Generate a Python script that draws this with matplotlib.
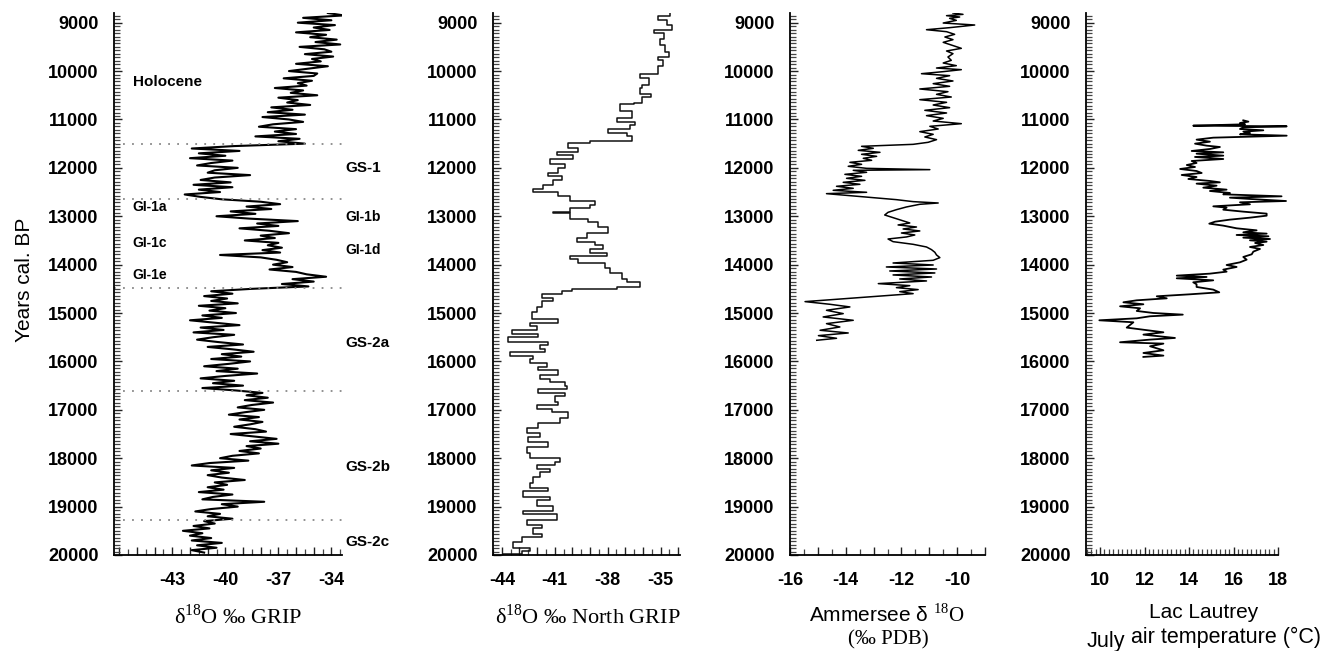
import numpy as np
import matplotlib
matplotlib.use('Agg')
import matplotlib.pyplot as plt
from matplotlib.ticker import MultipleLocator

plt.rcParams['font.family'] = ['Liberation Sans', 'DejaVu Sans']
plt.rcParams['mathtext.fontset'] = 'custom'
plt.rcParams['mathtext.rm'] = 'Liberation Serif'
plt.rcParams['axes.linewidth'] = 1.3

# ---- GRIP d18O, 50-yr samples from 8800 to 19950 cal BP ----
grip_age = np.arange(8800, 20000, 50)
grip_d18o = [
    -34.2, -33.3, -35.6, -34.0, -35.9, -33.8, -35.0, -34.1, -36.0, -34.3,
    -35.2, -33.7, -34.9, -33.5, -35.8, -34.4, -34.0, -35.5, -33.9, -35.1,
    -34.6, -36.0, -34.2, -35.3, -36.4, -34.8, -35.0, -36.7, -35.1, -35.9,
    -35.4, -37.2, -35.6, -36.3, -34.8, -37.0, -35.9, -36.5, -35.2, -37.4,
    -36.2, -37.6, -35.5, -37.9, -36.4, -35.6, -37.3, -38.1, -36.0, -37.2,
    -36.0, -38.3, -35.8, -37.0, -35.5, -39.5,
    -41.9, -39.2, -41.5, -40.0, -42.0, -39.6, -40.8, -41.6, -39.3, -40.6,
    -41.0, -38.6, -40.6, -41.4, -39.7, -41.8, -39.6, -41.5, -40.3, -42.3,
    -41.4, -40.2, -38.0, -36.9, -38.8, -37.4, -39.7, -38.3, -40.5, -38.6,
    -35.9, -38.2, -37.0, -39.2, -37.5, -36.4, -38.0, -37.2, -38.9, -37.0,
    -37.6, -36.8, -37.9, -36.9, -40.3, -38.0, -37.1, -36.5, -37.3, -36.2,
    -37.5, -36.0, -35.4, -34.3, -36.2, -35.0, -36.8, -35.3, -38.5, -40.8,
    -39.6, -41.2, -39.9, -40.8, -39.3, -41.5, -40.0, -40.9, -39.4, -41.3,
    -40.2, -42.0, -40.6, -39.2, -41.4, -40.1, -41.8, -39.5, -40.7, -41.6,
    -40.4, -39.0, -41.0, -39.6, -38.4, -40.2, -39.1, -40.8, -38.6, -39.8,
    -41.2, -39.3, -40.5, -38.2, -40.0, -41.4, -39.5, -40.7, -39.0, -41.3,
    -39.4, -37.9, -38.8, -37.6, -38.9, -37.3, -38.5, -39.3, -37.8, -38.9,
    -39.8, -38.1, -39.2, -37.9, -38.6, -39.5, -38.3, -37.7, -39.7, -38.4,
    -37.1, -38.6, -37.0, -38.8, -38.0, -39.2, -38.1, -39.6, -40.3, -38.7,
    -40.9, -41.9, -39.5, -40.8, -39.8, -41.0, -40.2, -38.9, -40.6, -39.9,
    -41.0, -40.1, -41.5, -39.6, -40.7, -41.3, -37.8, -40.2, -39.3, -40.8,
    -41.7, -40.3, -41.0, -39.6, -41.2, -40.6, -41.8, -40.9, -42.4, -41.3,
    -42.0, -40.8, -41.9, -40.2, -41.6, -40.5, -41.9, -41.2,
]

# stadial / interstadial boundaries and names
stage_bounds = [11500, 12650, 14480, 16620, 19280]
stage_left = ['Holocene', 'GI-1a', 'GI-1c', 'GI-1e']
stage_left_age = [10220, 12800, 13550, 14210]
stage_right = ['GS-1', 'GI-1b', 'GI-1d', 'GS-2a', 'GS-2b', 'GS-2c']
stage_right_age = [12000, 13010, 13700, 15620, 18180, 19730]

# ---- NorthGRIP d18O, step record: top age of each interval and its value ----
ngrip_top = [
    8796, 8855, 8942, 9051, 9145, 9218, 9342, 9451, 9596, 9705, 9778, 9887,
    10069, 10141, 10287, 10360, 10469, 10542, 10651, 10687, 10833, 10978,
    11051, 11124, 11196, 11283, 11342, 11451, 11487, 11596, 11669, 11742,
    11815, 11924, 11996, 12105, 12178, 12251, 12360, 12432, 12505, 12578,
    12687, 12760, 12833, 12905, 12941, 13050, 13123, 13232, 13341, 13450,
    13523, 13596, 13669, 13756, 13814, 13887, 13960, 14069, 14178, 14287,
    14360, 14469, 14505, 14542, 14615, 14687, 14760, 14869, 14978, 15124,
    15196, 15269, 15342, 15429, 15487, 15596, 15669, 15742, 15814, 15887,
    15960, 16033, 16105, 16178, 16287, 16360, 16433, 16505, 16578, 16651,
    16723, 16832, 16905, 16978, 17051, 17160, 17269, 17378, 17487, 17560,
    17669, 17778, 17887, 17996, 18069, 18141, 18214, 18287, 18396, 18505,
    18614, 18687, 18796, 18869, 18978, 19087, 19160, 19269, 19378, 19451,
    19560, 19632, 19741, 19850, 19923, 19975,
]
ngrip_d18o = [
    -34.45, -35.12, -34.64, -34.36, -35.40, -34.83, -35.02, -34.74, -34.55, -35.12, -34.87, -35.12,
    -36.16, -35.63, -36.06, -36.16, -35.55, -36.06, -36.50, -37.30, -36.63, -37.45,
    -36.44, -36.73, -37.96, -36.92, -36.63, -39.00, -40.23, -39.66, -40.89, -39.95,
    -41.27, -40.42, -40.80, -41.37, -40.61, -41.08, -41.65, -42.22, -40.80, -40.13,
    -38.71, -39.00, -40.13, -41.08, -40.13, -39.09, -38.52, -37.96, -39.19, -39.76,
    -38.71, -38.24, -39.00, -38.05, -40.13, -39.66, -38.15, -37.86, -37.20, -36.92,
    -36.16, -37.48, -40.04, -40.61, -41.74, -41.08, -41.74, -42.03, -42.31, -40.80,
    -42.41, -42.03, -43.45, -41.93, -43.64, -41.37, -41.84, -41.56, -43.54, -42.22,
    -42.41, -41.46, -41.93, -40.80, -41.84, -41.27, -40.42, -40.29, -41.93, -40.42,
    -40.99, -40.80, -42.03, -41.18, -40.23, -40.70, -41.93, -42.60, -41.84, -42.50,
    -41.37, -42.60, -42.41, -40.70, -40.99, -42.03, -41.27, -41.84, -42.22, -42.41,
    -41.37, -42.79, -41.27, -42.03, -41.08, -42.79, -40.89, -42.60, -41.74, -42.22,
    -41.74, -42.88, -43.35, -42.41, -42.88, -43.92,
]

# ---- Ammersee ostracod d18O ----
amm_age = [
    8800, 8828, 8855, 8883, 8910, 8952, 9007, 9048, 9103, 9145, 9186, 9241,
    9296, 9351, 9406, 9461, 9530, 9585, 9640, 9709, 9778, 9833, 9888, 9937,
    9971, 10012, 10054, 10095, 10150, 10205, 10260, 10315, 10370, 10426, 10481,
    10536, 10591, 10646, 10701, 10756, 10811, 10866, 10921, 10977, 11032, 11087,
    11142, 11197, 11252, 11307, 11362, 11417, 11472, 11514, 11555, 11596, 11638,
    11679, 11720, 11762, 11803, 11844, 11886, 11927, 11968, 12010, 12037, 12051,
    12092, 12134, 12175, 12216, 12258, 12299, 12340, 12381, 12423, 12464, 12505,
    12533, 12574, 12616, 12657, 12698, 12726, 12753, 12808, 12864, 12919, 12974,
    13029, 13084, 13139, 13180, 13222, 13263, 13304, 13346, 13387, 13428, 13470,
    13525, 13580, 13635, 13690, 13745, 13800, 13855, 13910, 13966, 14007, 14048,
    14090, 14131, 14172, 14213, 14255, 14296, 14337, 14392, 14434, 14475, 14516,
    14558, 14599, 14764, 14819, 14874, 14943, 15012, 15081, 15150, 15219, 15288,
    15356, 15412, 15467, 15522, 15563,
]
amm_d18o = [
    -10.15, -9.79, -10.38, -9.91, -10.27, -10.03, -10.50, -9.37, -10.27, -11.10, -10.38, -10.09,
    -10.44, -10.15, -10.50, -10.21, -9.85, -10.38, -10.15, -10.33, -10.21, -10.50, -10.03, -10.74,
    -9.85, -10.50, -11.28, -10.27, -10.74, -10.15, -10.86, -10.27, -11.34, -10.33, -10.74,
    -10.21, -11.34, -10.38, -10.86, -10.27, -11.16, -10.38, -11.10, -10.50, -10.86, -9.85,
    -10.98, -10.68, -11.34, -10.86, -11.16, -10.74, -11.04, -11.58, -13.43, -13.01, -13.55,
    -12.77, -13.43, -12.89, -13.37, -13.07, -13.85, -13.43, -13.91, -13.25, -10.98, -13.73,
    -13.25, -14.03, -13.43, -13.97, -13.31, -14.09, -13.49, -14.33, -13.73, -14.45, -13.25,
    -14.69, -13.85, -13.01, -12.18, -11.58, -10.68, -11.34, -11.82, -12.18, -12.48, -12.60,
    -12.30, -12.00, -11.70, -12.12, -11.46, -11.94, -11.34, -12.00, -11.52, -11.82, -12.48,
    -12.30, -11.58, -11.10, -10.92, -10.80, -10.74, -10.62, -10.86, -12.30, -10.86, -12.54,
    -10.74, -12.42, -10.80, -12.30, -10.92, -12.06, -11.10, -12.83, -11.70, -12.18, -11.40,
    -12.06, -11.58, -15.46, -14.57, -13.85, -14.69, -14.09, -14.81, -13.73, -14.69, -14.21,
    -14.92, -13.91, -14.98, -14.33, -15.04,
]

# ---- Lac Lautrey pollen-inferred July temperature ----
lau_age = [
    11018, 11045, 11073, 11100, 11128, 11142, 11162, 11197, 11224, 11252, 11280,
    11307, 11335, 11376, 11417, 11459, 11500, 11541, 11569, 11610, 11651, 11679,
    11707, 11748, 11775, 11817, 11858, 11899, 11941, 11982, 12023, 12065, 12106,
    12147, 12189, 12230, 12271, 12299, 12326, 12368, 12409, 12450, 12478, 12519,
    12547, 12588, 12616, 12643, 12685, 12712, 12753, 12795, 12822, 12864, 12905,
    12946, 12988, 13029, 13070, 13112, 13153, 13194, 13249, 13291, 13332, 13359,
    13387, 13414, 13442, 13470, 13497, 13525, 13552, 13594, 13635, 13676, 13731,
    13786, 13841, 13897, 13952, 14007, 14048, 14103, 14145, 14186, 14227, 14255,
    14282, 14324, 14365, 14406, 14461, 14516, 14572, 14613, 14654, 14696, 14737,
    14778, 14819, 14861, 14902, 14957, 14999, 15033, 15067, 15109, 15150, 15191,
    15246, 15301, 15398, 15446, 15515, 15549, 15604, 15632, 15687, 15770, 15825,
    15880, 15907,
]
lau_temp = [
    16.44, 16.67, 16.29, 16.52, 14.19, 18.39, 16.44, 16.29, 17.34, 16.44, 16.74,
    16.29, 18.39, 15.09, 14.34, 14.94, 14.27, 14.79, 15.39, 14.94, 14.12, 15.54,
    14.34, 15.54, 14.27, 15.54, 14.12, 14.34, 13.90, 14.27, 13.60, 14.34, 14.57,
    13.67, 14.34, 13.97, 14.94, 15.39, 14.34, 15.24, 14.64, 15.69, 14.94, 15.84,
    15.54, 18.16, 15.84, 16.74, 18.36, 16.29, 16.74, 15.09, 15.69, 15.54, 16.44,
    17.49, 17.49, 16.74, 15.84, 15.17, 14.91, 15.54, 16.14, 17.04, 16.44, 17.49,
    16.14, 17.57, 16.44, 17.64, 16.74, 17.49, 16.97, 17.34, 16.74, 17.19, 16.89,
    16.82, 16.44, 16.59, 16.29, 15.69, 16.14, 15.54, 15.69, 14.94, 13.45, 14.79,
    13.45, 15.09, 14.19, 14.34, 14.34, 15.09, 15.36, 14.04, 12.55, 13.00, 11.65,
    11.05, 11.95, 10.90, 11.80, 11.65, 12.40, 13.72, 12.25, 11.65, 9.97, 11.50,
    11.35, 11.20, 12.85, 11.95, 13.37, 12.25, 10.90, 12.85, 12.25, 12.85, 11.95,
    12.85, 11.95,
]

year_ticks = list(range(9000, 20001, 1000))

W, H = 1335, 651
fig = plt.figure(figsize=(W / 100, H / 100), dpi=100)


def px_axes(left, right, top=13, bottom=555):
    return fig.add_axes([left / W, 1 - bottom / H, (right - left) / W, (bottom - top) / H])


def setup(ax, xlim, ticks, labelled, minor):
    ax.set_ylim(20000, 8800)
    ax.set_xlim(*xlim)
    ax.set_yticks(year_ticks)
    ax.set_yticklabels([str(t) for t in year_ticks])
    ax.yaxis.set_minor_locator(MultipleLocator(1000 / 14))
    ax.set_xticks(ticks)
    ax.set_xticklabels([str(t) if t in labelled else '' for t in ticks])
    ax.xaxis.set_minor_locator(MultipleLocator(minor))
    for s in ['top', 'right']:
        ax.spines[s].set_visible(False)
    ax.tick_params(which='both', direction='in')
    ax.tick_params(which='major', length=6, width=1.0, color='#222', labelsize=13)
    ax.tick_params(which='minor', length=4, width=0.9, color='#444')
    ax.tick_params(axis='y', which='major', pad=11)
    ax.tick_params(axis='x', which='major', pad=12)
    for lab in ax.get_xticklabels() + ax.get_yticklabels():
        lab.set_fontweight('bold')


# GRIP
ax1 = px_axes(114, 342)
ax1.plot(grip_d18o, grip_age, color='black', lw=1.5)
setup(ax1, (-46.3, -33.4), list(range(-46, -33)), [-43, -40, -37, -34], 0.5)
ax1.hlines(stage_bounds, -46.3, -33.2, colors='#888', linestyles=(0, (1, 4)), lw=1.3, clip_on=False)
for name, age in zip(stage_left, stage_left_age):
    ax1.text(-45.25, age, name, fontsize=11 if name == 'Holocene' else 10,
             fontweight='bold', ha='left', va='center')
for name, age in zip(stage_right, stage_right_age):
    ax1.text(-33.2, age, name, fontsize=11 if name.startswith('GS') else 10,
             fontweight='bold', ha='left', va='center')

# NorthGRIP step curve
ax2 = px_axes(493, 680)
edges = np.append(ngrip_top, 20000)
ax2.plot(np.repeat(ngrip_d18o, 2), np.repeat(edges, 2)[1:-1], color='#111', lw=1.1)
setup(ax2, (-44.5, -33.9), list(range(-44, -33)), [-44, -41, -38, -35], 0.5)

# Ammersee
ax3 = px_axes(790, 985)
ax3.plot(amm_d18o, amm_age, color='black', lw=1.1)
setup(ax3, (-16, -9), list(range(-16, -8)), [-16, -14, -12, -10], 0.5)

# Lac Lautrey
ax4 = px_axes(1086, 1278)
ax4.plot(lau_temp, lau_age, color='black', lw=1.3, clip_on=False)
setup(ax4, (9.37, 18), [10, 12, 14, 16, 18], [10, 12, 14, 16, 18], 0.2)

# axis titles
serif = ['Liberation Serif', 'DejaVu Serif']
fig.text(24 / W, 1 - 280 / H, 'Years cal. BP', rotation=90, ha='center', va='center', fontsize=15)
fig.text(238 / W, 1 - 616 / H, 'δ$^{18}$O ‰ GRIP', family=serif, ha='center', va='center', fontsize=16)
fig.text(588 / W, 1 - 616 / H, 'δ$^{18}$O ‰ North GRIP', family=serif, ha='center', va='center', fontsize=16)
fig.text(887 / W, 1 - 614 / H, 'Ammersee δ $^{18}\\mathrm{O}$', ha='center', va='center', fontsize=15)
fig.text(888 / W, 1 - 640 / H, '(‰ PDB)', family=serif, ha='center', va='center', fontsize=15)
fig.text(1204 / W, 1 - 613 / H, 'Lac Lautrey', ha='center', va='center', fontsize=15)
fig.text(1087 / W, 1 - 642 / H, 'July', ha='left', va='center', fontsize=15.5)
fig.text(1131 / W, 1 - 637 / H, 'air temperature (°C)', ha='left', va='center', fontsize=15.5)

fig.savefig('out.png', dpi=100)
